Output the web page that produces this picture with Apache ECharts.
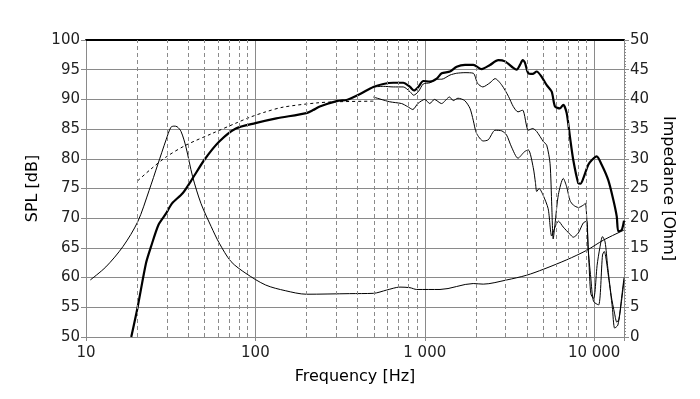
<!DOCTYPE html>
<html>
<head>
<meta charset="utf-8">
<script src="https://cdn.jsdelivr.net/npm/echarts@6/dist/echarts.min.js"></script>
<style>
  html, body { margin: 0; padding: 0; background: #fff; }
  #chart_001 { width: 700px; height: 399px; }
</style>
</head>
<body>
<div id="chart_001"></div>
<script>
// on-axis SPL (thick)
var spl0Hz = [18.5, 20.2, 22.6, 24.2, 26.8, 29.7, 32.2, 37.2, 42.6, 49.9, 61.2, 76.7, 100, 133, 200, 219, 240, 302, 345, 362, 415, 497, 569, 652, 746, 818, 864, 916, 980, 1073, 1176, 1259, 1409, 1543, 1728, 1934, 2167, 2426, 2716, 2974, 3331, 3488, 3648, 3783, 3900, 4083, 4335, 4577, 4899, 5245, 5614, 5871, 6283, 6570, 6880, 7195, 7527, 8057, 8300, 8624, 9230, 9700, 10347, 11076, 12113, 12970, 13590, 13880, 14530, 15000];
var spl0Db = [50, 55.1, 62.4, 65.2, 68.9, 70.8, 72.5, 74.2, 76.7, 79.8, 82.9, 85.1, 86.0, 86.8, 87.7, 88.2, 88.8, 89.7, 89.9, 90.1, 90.9, 92.1, 92.6, 92.8, 92.8, 92.1, 91.5, 92.1, 93.1, 93.0, 93.5, 94.4, 94.7, 95.5, 95.8, 95.8, 95.1, 95.8, 96.6, 96.4, 95.3, 95.0, 95.8, 96.6, 96.2, 94.4, 94.3, 94.7, 93.8, 92.4, 91.3, 88.8, 88.5, 89.1, 87.7, 83.7, 79.8, 75.9, 75.8, 76.7, 79.0, 79.8, 80.4, 79.0, 76.4, 73.1, 70.3, 67.8, 68.0, 69.6];

// off-axis SPL, upper thin curve
var spl30Hz = [497, 569, 652, 746, 818, 860, 916, 980, 1073, 1176, 1259, 1409, 1543, 1728, 1934, 2050, 2200, 2426, 2600, 2850, 3120, 3330, 3550, 3780, 4083, 4335, 4577, 5010, 5245, 5490, 5620, 5730, 5870, 6150, 6570, 6880, 7195, 7540, 8080, 8624, 8870, 9040, 9300, 9550, 9910, 10100, 10400, 10800, 11200, 11600, 12000, 12600, 13210, 13600, 14000, 14500, 15000];
var spl30Db = [92.1, 92.2, 92.1, 92.1, 91.3, 90.7, 91.3, 92.6, 92.8, 93.4, 93.4, 94.1, 94.4, 94.5, 94.4, 92.7, 92.1, 92.8, 93.5, 92.4, 90.5, 88.8, 87.9, 88.2, 84.8, 85.1, 84.6, 82.9, 82.3, 79.2, 72.0, 66.5, 69.0, 74.0, 76.7, 75.3, 73.0, 72.2, 71.8, 72.2, 72.5, 70.0, 63.0, 57.3, 56.5, 57.5, 62.0, 65.0, 66.9, 66.0, 62.0, 57.0, 53.9, 52.5, 53.0, 56.5, 60.0];

// off-axis SPL, lower thin curve
var spl60Hz = [497, 621, 730, 790, 850, 910, 1000, 1070, 1140, 1255, 1400, 1473, 1570, 1720, 1848, 1932, 2020, 2213, 2370, 2600, 2850, 3040, 3250, 3550, 3880, 4085, 4370, 4500, 4580, 4730, 4990, 5350, 5614, 5871, 6150, 6570, 7195, 7527, 8057, 8624, 9040, 9200, 9550, 9910, 10620, 11200, 11460, 12170, 12800, 13210, 13800, 14500, 15000];
var spl60Db = [90.4, 89.6, 89.3, 88.8, 88.3, 89.3, 90.0, 89.3, 90.0, 89.3, 90.4, 89.8, 90.2, 89.8, 88.5, 86.5, 84.3, 83.0, 83.2, 84.8, 84.7, 84.0, 82.0, 80.1, 81.2, 81.5, 78.5, 76.0, 74.5, 75.0, 73.9, 71.6, 67.0, 68.5, 69.5, 68.5, 67.3, 66.8, 67.5, 69.2, 69.5, 65.0, 60.0, 56.0, 55.4, 63.8, 64.4, 60.0, 55.0, 51.5, 52.0, 56.0, 59.5];

// simulated low end (dashed)
var simHz = [20.2, 24, 29.7, 38.9, 55.9, 76.7, 93, 115, 146, 229, 302, 497];
var simDb = [76.3, 78.2, 80.3, 82.3, 84.3, 86.0, 87.0, 87.9, 88.7, 89.4, 89.6, 89.7];

// impedance (right axis)
var impHz = [10.6, 13.1, 16.5, 20.2, 23.6, 26.5, 29.7, 31.7, 33.1, 34.5, 36.4, 38.9, 42.6, 47.7, 54.8, 61.2, 71.8, 88, 115, 150, 200, 360, 497, 595, 714, 818, 896, 1230, 1932, 2213, 3040, 3990, 5010, 6890, 9040, 11330, 15000];
var impOhm = [9.6, 11.8, 15.2, 19.4, 24.7, 29.0, 33.2, 35.3, 35.5, 35.4, 34.6, 32.0, 27.0, 22.5, 18.6, 15.8, 12.7, 10.7, 8.75, 7.8, 7.2, 7.3, 7.35, 7.9, 8.4, 8.3, 8.0, 8.0, 9.0, 8.9, 9.6, 10.4, 11.4, 13.0, 14.6, 16.3, 18.0];

// dashed vertical grid between decades
var minorHz = [20, 30, 40, 50, 60, 70, 80, 90, 200, 300, 400, 500, 600, 700, 800, 900, 2000, 3000, 4000, 5000, 6000, 7000, 8000, 9000];

function pairs(xs, ys) {
  return xs.map(function (x, i) { return [x, ys[i]]; });
}

var font = 'DejaVu Sans';
var gridGray = '#8a8a8a';

var myChart = echarts.init(document.getElementById('chart_001'));

var option = {
  animation: false,
  backgroundColor: '#fff',
  grid: { left: 86, right: 76, top: 40, bottom: 62 },
  xAxis: [
    {
      type: 'log',
      logBase: 10,
      min: 10,
      max: 15000,
      name: 'Frequency [Hz]',
      nameLocation: 'middle',
      nameGap: 32,
      nameTextStyle: { fontFamily: font, fontSize: 16, color: '#000' },
      axisLine: { lineStyle: { color: gridGray } },
      axisTick: { show: true, length: 4, lineStyle: { color: gridGray } },
      axisLabel: {
        fontFamily: font, fontSize: 15, color: '#222', margin: 9,
        formatter: function (v) {
          var l = Math.log10(v);
          if (Math.abs(l - Math.round(l)) > 1e-6) return '';
          return String(Math.round(v)).replace(/\B(?=(\d{3})+(?!\d))/g, ' ');
        }
      },
      splitLine: { show: true, lineStyle: { color: gridGray, width: 1 } }
    },
    {
      type: 'log',
      logBase: 10,
      min: 10,
      max: 15000,
      position: 'top',
      axisLine: { lineStyle: { color: '#000', width: 2 } },
      axisTick: { show: false },
      axisLabel: { show: false },
      splitLine: { show: false }
    }
  ],
  yAxis: [
    {
      type: 'value',
      min: 50,
      max: 100,
      interval: 5,
      name: 'SPL [dB]',
      nameLocation: 'middle',
      nameRotate: 90,
      nameGap: 39,
      nameTextStyle: { fontFamily: font, fontSize: 16, color: '#000' },
      axisLine: { show: true, lineStyle: { color: gridGray } },
      axisTick: { show: true, length: 5, lineStyle: { color: gridGray } },
      axisLabel: { fontFamily: font, fontSize: 15, color: '#222', margin: 6 },
      splitLine: { show: true, lineStyle: { color: gridGray, width: 1 } }
    },
    {
      type: 'value',
      min: 0,
      max: 50,
      interval: 5,
      position: 'right',
      name: 'Impedance [Ohm]',
      nameLocation: 'middle',
      nameRotate: -90,
      nameGap: 36,
      nameTextStyle: { fontFamily: font, fontSize: 16, color: '#000' },
      axisLine: { show: true, lineStyle: { color: gridGray } },
      axisTick: { show: true, length: 5, lineStyle: { color: gridGray } },
      minorTick: { show: true, splitNumber: 10, length: 2, lineStyle: { color: gridGray } },
      axisLabel: { fontFamily: font, fontSize: 15, color: '#222', margin: 6 },
      splitLine: { show: false }
    }
  ],
  series: [
    {
      name: 'Impedance',
      type: 'line',
      yAxisIndex: 1,
      z: 2,
      data: pairs(impHz, impOhm),
      showSymbol: false,
      smooth: 0.3,
      lineStyle: { color: '#000', width: 1 },
      markLine: {
        silent: true,
        symbol: ['none', 'none'],
        label: { show: false },
        lineStyle: { color: gridGray, type: [4, 3], width: 1 },
        data: minorHz.map(function (v) { return { xAxis: v }; })
      }
    },
    {
      name: 'Sim',
      type: 'line',
      z: 3,
      data: pairs(simHz, simDb),
      showSymbol: false,
      smooth: 0.3,
      lineStyle: { color: '#000', width: 1, type: [3, 3] }
    },
    {
      name: '60',
      type: 'line',
      z: 3,
      data: pairs(spl60Hz, spl60Db),
      showSymbol: false,
      smooth: 0.25,
      lineStyle: { color: '#000', width: 1 }
    },
    {
      name: '30',
      type: 'line',
      z: 3,
      data: pairs(spl30Hz, spl30Db),
      showSymbol: false,
      smooth: 0.25,
      lineStyle: { color: '#000', width: 1 }
    },
    {
      name: '0',
      type: 'line',
      z: 4,
      data: pairs(spl0Hz, spl0Db),
      showSymbol: false,
      smooth: 0.25,
      lineStyle: { color: '#000', width: 2.2 }
    }
  ]
};

myChart.setOption(option);
</script>
</body>
</html>
